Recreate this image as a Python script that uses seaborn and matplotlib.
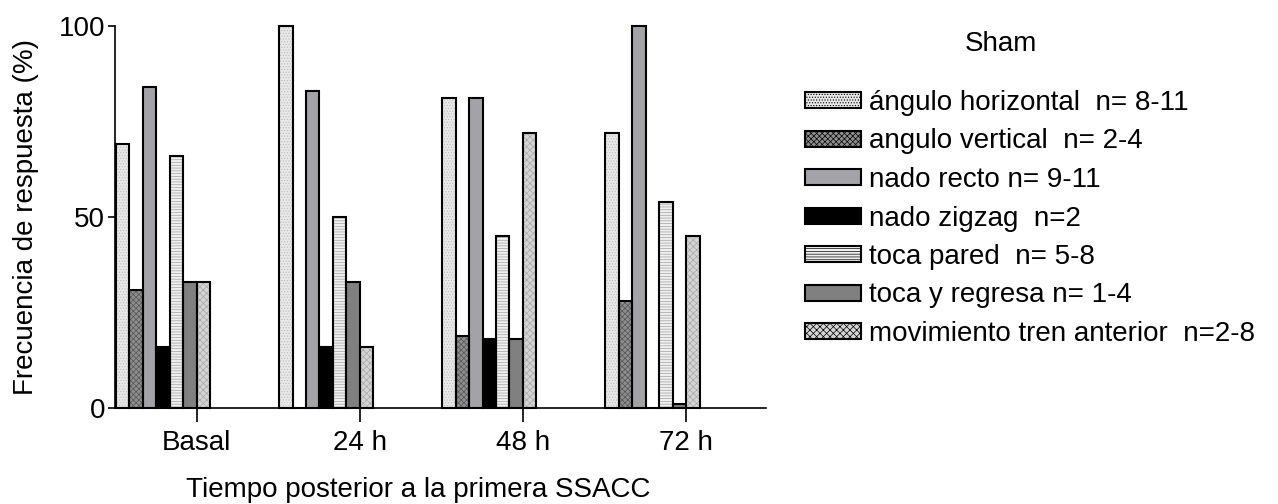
import pandas as pd
import matplotlib.pyplot as plt
import seaborn as sns
from matplotlib.patches import Patch, Rectangle

# data
times = ['Basal', '24 h', '48 h', '72 h']
behaviors = ['ángulo horizontal  n= 8-11', 'angulo vertical  n= 2-4', 'nado recto n= 9-11',
             'nado zigzag  n=2', 'toca pared  n= 5-8', 'toca y regresa n= 1-4',
             'movimiento tren anterior  n=2-8']
ang_horizontal = [69, 100, 81, 72]
ang_vertical = [31, 0, 19, 28]
nado_recto = [84, 83, 81, 100]
nado_zigzag = [16, 16, 18, 0]
toca_pared = [66, 50, 45, 54]
toca_regresa = [33, 33, 18, 1]
mov_tren = [33, 16, 72, 45]

series = [ang_horizontal, ang_vertical, nado_recto, nado_zigzag, toca_pared, toca_regresa, mov_tren]
rows = []
for b, vals in zip(behaviors, series):
    for t, v in zip(times, vals):
        rows.append({'Tiempo': t, 'Conducta': b, 'Frecuencia': v})
df = pd.DataFrame(rows)

# fill / hatch / hatch colour per behaviour
faces = ['#e8e8e8', '#8e8e8e', '#a2a2a8', '#000000', '#f0f0f0', '#808080', '#d4d4d4']
hatches = ['......', 'xxxxxx', '', '', '------', '', 'xxxxx']
hatch_cols = ['#bdbdbd', '#555555', '#a2a2a8', '#000000', '#a0a0a0', '#808080', '#a8a8a8']

sns.set_style('ticks')
plt.rcParams['font.family'] = ['Liberation Sans', 'DejaVu Sans']
plt.rcParams['hatch.linewidth'] = 0.5
plt.rcParams['text.color'] = 'black'
plt.rcParams['axes.labelcolor'] = 'black'
plt.rcParams['xtick.color'] = 'black'
plt.rcParams['ytick.color'] = 'black'
plt.rcParams['axes.edgecolor'] = 'black'

fig = plt.figure(figsize=(12.78, 5.04), dpi=100)
ax = fig.add_axes([0.09, 0.19, 0.509, 0.759])

sns.barplot(data=df, x='Tiempo', y='Frecuencia', hue='Conducta', hue_order=behaviors,
            order=times, palette=faces, width=0.577, ax=ax, legend=False,
            saturation=1, errorbar=None)

# hatch in grey, then a black outline on top of each bar
for i, cont in enumerate(ax.containers):
    for p in cont.patches:
        p.set_facecolor(faces[i])
        p.set_hatch(hatches[i])
        p.set_edgecolor(hatch_cols[i])
        p.set_linewidth(0)
        ax.add_patch(Rectangle(p.get_xy(), p.get_width(), p.get_height(), fill=False,
                               edgecolor='black', linewidth=1.5, zorder=p.get_zorder() + 0.1,
                               clip_on=False))

ax.set_ylim(0, 100)
ax.set_xlim(-0.294, 3.693)
ax.set_yticks([0, 50, 100])
ax.set_xticks([i + 0.207 for i in range(len(times))])
ax.set_xticklabels(times)
ax.tick_params(axis='y', length=5, width=1.2, labelsize=20, pad=2)
ax.tick_params(axis='x', length=10, width=1.2, labelsize=20, pad=6)
for s in ['top', 'right']:
    ax.spines[s].set_visible(False)
for s in ['left', 'bottom']:
    ax.spines[s].set_linewidth(1.2)
ax.set_ylabel('Frecuencia de respuesta (%)', fontsize=20, labelpad=14)
ax.set_xlabel('Tiempo posterior a la primera SSACC', fontsize=20, labelpad=15,
              x=(418 - 115) / 650)

handles = [Patch(facecolor=faces[i], hatch=hatches[i], edgecolor='black', linewidth=1.5)
           for i in range(len(behaviors))]
fig.legend(handles, behaviors, loc='upper left', bbox_to_anchor=(805 / 1278, 1 - 90 / 504),
           frameon=False, fontsize=20, borderpad=0, borderaxespad=0, labelspacing=0.45,
           handlelength=2.0, handleheight=0.5, handletextpad=0.3)
fig.text(1001 / 1278, 1 - 44 / 504, 'Sham', ha='center', va='center', fontsize=20)

fig.savefig('out.png', dpi=100)
